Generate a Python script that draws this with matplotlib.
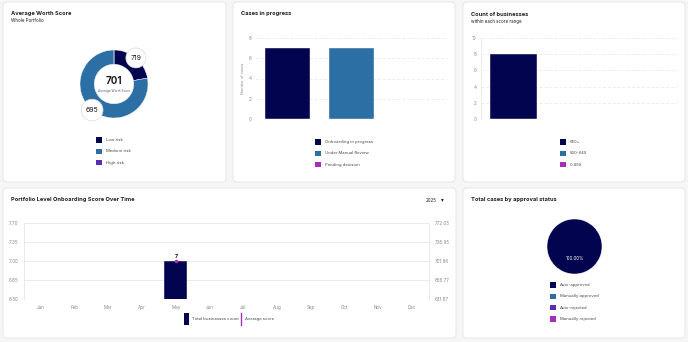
import numpy as np
import matplotlib
matplotlib.use('Agg')
import matplotlib.pyplot as plt
from matplotlib.patches import FancyBboxPatch, Rectangle

plt.rcParams['font.family'] = ['Inter', 'DejaVu Sans']

# data
risk_labels = ['Low risk', 'Medium risk', 'High risk']
risk_counts = [2, 7, 0]
risk_scores = [719, 695, None]
avg_score = 701

case_labels = ['Onboarding in progress', 'Under Manual Review', 'Pending decision']
case_counts = [7, 7, 0]

range_labels = ['650+', '500-649', '0-499']
range_counts = [8, 0, 0]

months = ['Jan', 'Feb', 'Mar', 'Apr', 'May', 'Jun', 'Jul', 'Aug', 'Sep', 'Oct', 'Nov', 'Dec']
month_counts = [None, None, None, None, 7, None, None, None, None, None, None, None]
month_avg = [None, None, None, None, 701.86, None, None, None, None, None, None, None]
year = '2025'

status_labels = ['Auto-approved', 'Manually approved', 'Auto-rejected', 'Manually rejected']
status_counts = [7, 0, 0, 0]

NAVY = '#03044f'
BLUE = '#2b6fa5'
PURPLE = '#5a2db5'
MAGENTA = '#a62fb8'
TXT = '#1f1f24'
GREY = '#8a8a8a'
GRID = '#e6e6e6'
TITLE_FS = 4.1
SUB_FS = 3.2
LEG_FS = 3.0

W, H = 688, 342
fig = plt.figure(figsize=(W / 100, H / 100), dpi=100, facecolor='#f6f6f7')

bg = fig.add_axes([0, 0, 1, 1])
bg.set_xlim(0, W)
bg.set_ylim(H, 0)
bg.axis('off')


def px_axes(x0, y0, x1, y1):
    return fig.add_axes([x0 / W, 1 - y1 / H, (x1 - x0) / W, (y1 - y0) / H])


def card(x0, y0, x1, y1):
    bg.add_patch(FancyBboxPatch((x0, y0), x1 - x0, y1 - y0,
                                boxstyle='round,pad=0,rounding_size=4',
                                fc='white', ec='#e3e3e6', lw=0.6))


def legend(x, y, labels, colors, step=11.3):
    for i, (lab, col) in enumerate(zip(labels, colors)):
        yy = y + i * step
        bg.add_patch(Rectangle((x - 2.7, yy - 2.7), 5.4, 5.4, fc=col, ec='none'))
        bg.text(x + 7, yy, lab, fontsize=LEG_FS, color='#444', va='center')


def style_bar_axes(ax):
    for s in ax.spines.values():
        s.set_visible(False)
    ax.tick_params(length=0, labelsize=3.3, labelcolor=GREY, pad=3)
    ax.grid(axis='y', color=GRID, lw=0.5, ls=(0, (4, 3)))
    ax.set_axisbelow(True)
    ax.set_xticks([])


card(3, 2, 226, 182)
card(233, 2, 455, 182)
card(463, 2, 685, 182)
card(3, 188, 456, 338)
card(463, 188, 685, 338)

# card 1: donut
bg.text(11, 14, 'Average Worth Score', fontsize=TITLE_FS, fontweight='bold', color=TXT, va='center')
bg.text(11, 21, 'Whole Portfolio', fontsize=SUB_FS, color=TXT, va='center')
ax1 = px_axes(80, 50, 148, 118)
risk_colors = [NAVY, BLUE, PURPLE]
wedges, _ = ax1.pie(risk_counts, colors=risk_colors, startangle=90, counterclock=False,
                    wedgeprops=dict(width=0.42, ec='white', lw=0.3))
ax1.set_xlim(-1, 1)
ax1.set_ylim(-1, 1)
ax1.text(0, 0.08, str(avg_score), ha='center', va='center', fontsize=7, fontweight='bold', color=TXT)
ax1.text(0, -0.2, 'Average Worth Score', ha='center', va='center', fontsize=2.3, color='#5a5a8a')
for w, sc in zip(wedges, risk_scores):
    if sc is None or w.theta2 - w.theta1 == 0:
        continue
    ang = np.deg2rad((w.theta1 + w.theta2) / 2)
    ax1.text(np.cos(ang), np.sin(ang), str(sc), ha='center', va='center', fontsize=5, color=TXT,
             bbox=dict(boxstyle='circle,pad=0.65', fc='white', ec='#dcdcdc', lw=0.5), clip_on=False)
legend(99, 140, risk_labels, risk_colors)

# card 2: cases in progress
bg.text(241, 14, 'Cases in progress', fontsize=TITLE_FS, fontweight='bold', color=TXT, va='center')
ax2 = px_axes(256, 38, 447, 119)
x = np.arange(len(case_labels))
case_colors = [NAVY, BLUE, MAGENTA]
ax2.bar(x, case_counts, width=0.71, color=case_colors, ec='white', lw=0.3)
ax2.set_xlim(-0.5, 2.5)
ax2.set_ylim(0, 8)
ax2.set_yticks([0, 2, 4, 6, 8])
style_bar_axes(ax2)
ax2.set_ylabel('Number of cases', fontsize=2.8, color=GREY, labelpad=3)
legend(318, 142, case_labels, case_colors)

# card 3: count of businesses
bg.text(471, 14, 'Count of businesses', fontsize=TITLE_FS, fontweight='bold', color=TXT, va='center')
bg.text(471, 21, 'within each score range', fontsize=SUB_FS, color=TXT, va='center')
ax3 = px_axes(481, 38, 677, 119)
x = np.arange(len(range_labels))
range_colors = [NAVY, BLUE, MAGENTA]
ax3.bar(x, range_counts, width=0.72, color=range_colors, ec='white', lw=0.3)
ax3.set_xlim(-0.5, 2.5)
ax3.set_ylim(0, 10)
ax3.set_yticks([0, 2, 4, 6, 8, 10])
style_bar_axes(ax3)
ax3.spines['left'].set_visible(True)
ax3.spines['left'].set_color(GRID)
ax3.spines['left'].set_linewidth(0.5)
legend(563, 142, range_labels, range_colors)

# card 4: score over time
bg.text(11, 200, 'Portfolio Level Onboarding Score Over Time', fontsize=TITLE_FS, fontweight='bold',
        color=TXT, va='center')
bg.text(426, 200, year, fontsize=SUB_FS, color=TXT, va='center')
bg.text(441, 200, '\u25be', fontsize=4, color=TXT, va='center', family='DejaVu Sans')
ax4 = px_axes(24, 223, 429, 299)
x = np.arange(len(months))
cnt = max(c for c in month_counts if c is not None)
avg = max(a for a in month_avg if a is not None)
bx = [i for i, c in enumerate(month_counts) if c is not None]
bv = [c for c in month_counts if c is not None]
ax4.bar(bx, bv, width=0.68, color=NAVY, ec='white', lw=0.3)
for i, v in zip(bx, bv):
    ax4.text(i, v + 0.04, str(v), ha='center', va='bottom', fontsize=3.8, fontweight='bold', color=NAVY)
ax4.set_xlim(-0.5, 11.5)
ax4.set_ylim(cnt * 0.9, cnt * 1.1)
ax4.set_yticks(np.linspace(cnt * 0.9, cnt * 1.1, 5))
ax4.yaxis.set_major_formatter(matplotlib.ticker.FormatStrFormatter('%.2f'))
ax4.set_xticks(x)
ax4.set_xticklabels(months)
ax4.grid(axis='y', color=GRID, lw=0.6)
ax4.set_axisbelow(True)
for s in ['top', 'bottom']:
    ax4.spines[s].set_visible(False)
for s in ['left', 'right']:
    ax4.spines[s].set_color(GRID)
    ax4.spines[s].set_linewidth(0.6)
ax4.tick_params(length=0, labelsize=3.3, labelcolor=GREY, pad=4)
ax4b = ax4.twinx()
ax4b.set_ylim(avg * 0.9, avg * 1.1)
ax4b.set_yticks(np.linspace(avg * 0.9, avg * 1.1, 5))
ax4b.yaxis.set_major_formatter(matplotlib.ticker.FormatStrFormatter('%.2f'))
ax4b.tick_params(length=0, labelsize=3.3, labelcolor=GREY, pad=4)
for s in ax4b.spines.values():
    s.set_visible(False)
ai = [i for i, a in enumerate(month_avg) if a is not None]
av = [a for a in month_avg if a is not None]
ax4b.plot(ai, av, color=MAGENTA, marker='o', ms=1.6, lw=1)
# legend
bg.add_patch(Rectangle((184, 313), 5, 12, fc=NAVY, ec='none'))
bg.text(192, 319, 'Total businesses count', fontsize=LEG_FS, color='#444', va='center')
bg.plot([241, 241], [313, 325], color=MAGENTA, lw=1)
bg.text(245, 319, 'Average score', fontsize=LEG_FS, color='#444', va='center')

# card 5: approval status
bg.text(471, 200, 'Total cases by approval status', fontsize=TITLE_FS, fontweight='bold', color=TXT, va='center')
ax5 = px_axes(547, 219, 602, 274)
status_colors = [NAVY, BLUE, PURPLE, MAGENTA]
nz = [i for i, c in enumerate(status_counts) if c > 0]
ax5.pie([status_counts[i] for i in nz], colors=[status_colors[i] for i in nz], startangle=90,
        autopct='%.2f%%', pctdistance=0.45,
        textprops=dict(color='white', fontsize=3.2), wedgeprops=dict(ec='white', lw=0.3))
ax5.set_xlim(-1, 1)
ax5.set_ylim(-1, 1)
legend(553, 285, status_labels, status_colors)

fig.savefig('out.png', dpi=100, facecolor=fig.get_facecolor())
